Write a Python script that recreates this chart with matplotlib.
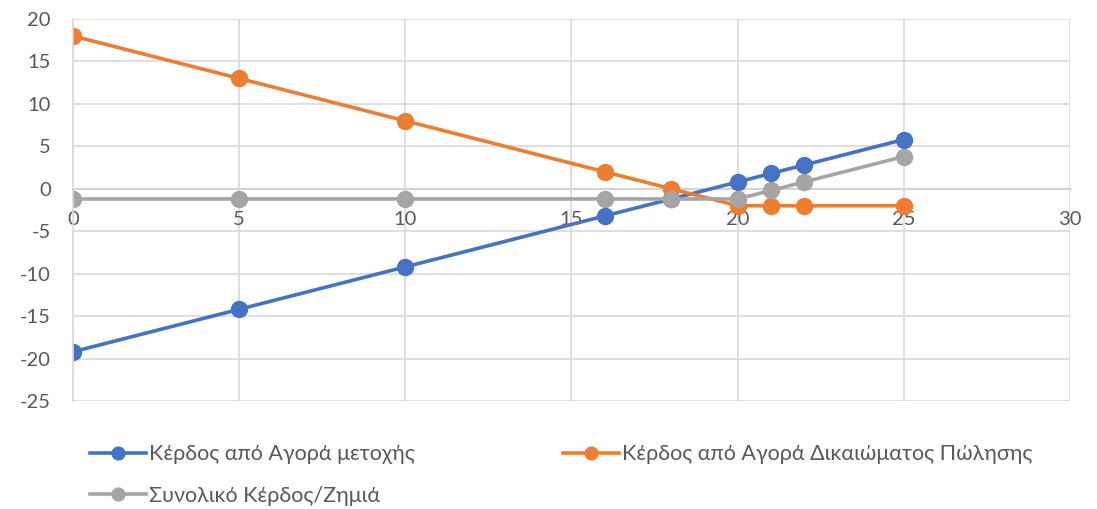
import matplotlib.pyplot as plt

plt.rcParams["font.family"] = ["Lato", "DejaVu Sans"]
plt.rcParams["axes.unicode_minus"] = False

x_vals = [0, 5, 10, 16, 18, 20, 21, 22, 25]
stock = [-19.2, -14.2, -9.2, -3.2, -1.2, 0.8, 1.8, 2.8, 5.8]
put = [18, 13, 8, 2, 0, -2, -2, -2, -2]
total = [-1.2, -1.2, -1.2, -1.2, -1.2, -1.2, -0.2, 0.8, 3.8]
labels = ["Κέρδος από Αγορά μετοχής",
          "Κέρδος από Αγορά Δικαιώματος Πώλησης",
          "Συνολικό Κέρδος/Ζημιά"]
colors = ["#4472C4", "#ED7D31", "#A5A5A5"]

fig = plt.figure(figsize=(10.97, 5.09), dpi=100)
ax = fig.add_axes([0.0665, 0.2122, 0.9089, 0.7505])

handles = []
for ys, c, lab in zip([stock, put, total], colors, labels):
    h, = ax.plot(x_vals, ys, color=c, lw=2.6, marker="o", markersize=11.5, label=lab)
    handles.append(h)

ax.set_xlim(0, 30)
ax.set_ylim(-25, 20)
ax.set_xticks(range(0, 31, 5))
ax.set_yticks(range(-25, 21, 5))
ax.grid(True, color="#D9D9D9", lw=1.2)
ax.set_axisbelow(True)
for s in ["top", "right"]:
    ax.spines[s].set_visible(False)
ax.spines["left"].set_color("#D9D9D9")
ax.spines["left"].set_linewidth(1.2)
ax.spines["bottom"].set_position(("data", 0))
ax.spines["bottom"].set_color("#BFBFBF")
ax.spines["bottom"].set_linewidth(1.5)
ax.spines["bottom"].set_zorder(0.5)
ax.tick_params(length=0, labelsize=14.5, labelcolor="#595959")
ax.tick_params(axis="y", pad=16)
ax.tick_params(axis="x", pad=16)

# matplotlib fills legend columns first, so reorder to get row order
order = [0, 2, 1]
fig.legend(handles=[handles[i] for i in order], loc="upper left",
           bbox_to_anchor=(0.064, 0.165), ncol=2, frameon=False,
           columnspacing=6.9, handlelength=2.6, handletextpad=0.15,
           labelspacing=1.0, markerscale=0.8,
           prop={"size": 15.5}, labelcolor="#595959")

fig.savefig("out.png", dpi=100)
